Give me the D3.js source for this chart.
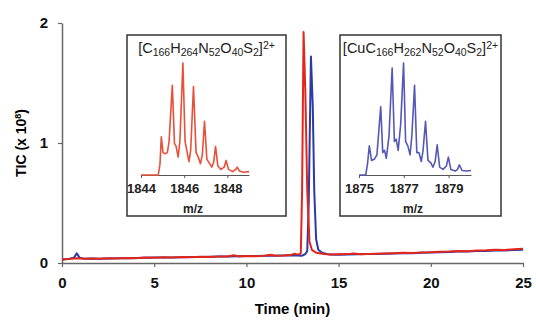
<!DOCTYPE html>
<html>
<head>
<meta charset="utf-8">
<script src="https://cdn.jsdelivr.net/npm/d3@7"></script>
<style>
  body { margin: 0; background: #fff; }
  svg { display: block; font-family: "Liberation Sans", Arial, sans-serif; }
</style>
</head>
<body>
<div id="chart"></div>
<script>
// main chromatogram: [time (min), TIC (x 10^8)]
const redTrace = [
  [0, 0.03], [0.4, 0.034], [0.8, 0.04], [1.2, 0.036], [1.6, 0.038], [2, 0.035], [2.5, 0.04], [3, 0.038],
  [3.5, 0.042], [4, 0.04], [4.5, 0.045], [5, 0.043], [5.5, 0.048], [6, 0.046], [6.5, 0.05], [7, 0.048],
  [7.5, 0.053], [8, 0.051], [8.5, 0.055], [9, 0.054], [9.3, 0.064], [9.6, 0.055], [10, 0.058], [10.5, 0.057],
  [11, 0.06], [11.3, 0.068], [11.6, 0.06], [12, 0.062], [12.4, 0.066], [12.6, 0.078], [12.8, 0.07], [12.95, 0.08],
  [13.02, 0.6], [13.1, 1.925], [13.2, 1.4], [13.3, 0.6], [13.42, 0.18], [13.55, 0.11], [13.8, 0.085], [14.2, 0.075],
  [14.6, 0.07], [15, 0.072], [15.5, 0.074], [15.8, 0.08], [16.2, 0.073], [16.6, 0.076], [17, 0.078], [17.5, 0.08],
  [18, 0.082], [18.5, 0.085], [19, 0.084], [19.5, 0.088], [20, 0.09], [20.5, 0.094], [21, 0.095], [21.5, 0.1],
  [22, 0.098], [22.5, 0.104], [23, 0.106], [23.5, 0.11], [24, 0.108], [24.5, 0.115], [25, 0.118]
];
const blueTrace = [
  [0, 0.03], [0.4, 0.035], [0.65, 0.045], [0.8, 0.08], [0.95, 0.045], [1.2, 0.036], [1.6, 0.037], [2, 0.036],
  [2.5, 0.038], [3, 0.04], [3.5, 0.04], [4, 0.042], [4.5, 0.043], [5, 0.045], [5.5, 0.046], [6, 0.045],
  [6.5, 0.048], [7, 0.05], [7.5, 0.05], [8, 0.052], [8.5, 0.054], [9, 0.055], [9.5, 0.056], [10, 0.058],
  [10.5, 0.058], [11, 0.06], [11.5, 0.06], [12, 0.062], [12.5, 0.064], [13, 0.06], [13.2, 0.075], [13.3, 0.1],
  [13.38, 0.5], [13.5, 1.72], [13.6, 1.3], [13.68, 0.6], [13.78, 0.2], [13.9, 0.11], [14.1, 0.085], [14.5, 0.07],
  [15, 0.068], [15.5, 0.07], [16, 0.072], [16.5, 0.074], [17, 0.075], [17.5, 0.077], [18, 0.08], [18.5, 0.082],
  [19, 0.082], [19.5, 0.085], [20, 0.088], [20.5, 0.09], [21, 0.092], [21.5, 0.095], [22, 0.096], [22.5, 0.1],
  [23, 0.1], [23.5, 0.104], [24, 0.105], [24.5, 0.108], [25, 0.11]
];
const timeTicks = [0, 5, 10, 15, 20, 25];
const ticTicks = [0, 1, 2];

// inset spectra: [m/z, relative intensity]
const apoSpectrum = [
  [1844, 0], [1844.8, 0], [1844.88, 0.1], [1844.94, 0.34], [1845.02, 0.2], [1845.12, 0.19], [1845.22, 0.2],
  [1845.3, 0.3], [1845.45, 0.8], [1845.55, 0.28], [1845.62, 0.26], [1845.72, 0.16], [1845.8, 0.3], [1845.94, 1.0],
  [1846.04, 0.3], [1846.12, 0.22], [1846.22, 0.12], [1846.3, 0.22], [1846.43, 0.79], [1846.55, 0.2], [1846.65, 0.16],
  [1846.75, 0.1], [1846.84, 0.18], [1846.94, 0.48], [1847.05, 0.14], [1847.15, 0.11], [1847.28, 0.07], [1847.37, 0.12],
  [1847.45, 0.255], [1847.56, 0.08], [1847.7, 0.05], [1847.85, 0.07], [1847.94, 0.13], [1848.05, 0.05], [1848.25, 0.03],
  [1848.38, 0.05], [1848.46, 0.07], [1848.56, 0.035], [1848.75, 0.025], [1849, 0.03]
];
const cuSpectrum = [
  [1875, 0], [1875.3, 0], [1875.38, 0.1], [1875.46, 0.26], [1875.56, 0.13], [1875.68, 0.14], [1875.8, 0.18],
  [1875.97, 0.61], [1876.06, 0.2], [1876.14, 0.22], [1876.22, 0.15], [1876.34, 0.35], [1876.48, 0.955], [1876.58, 0.3],
  [1876.66, 0.32], [1876.75, 0.22], [1876.86, 0.45], [1876.99, 1.0], [1877.08, 0.3], [1877.18, 0.26], [1877.28, 0.18],
  [1877.36, 0.35], [1877.48, 0.8], [1877.58, 0.2], [1877.68, 0.2], [1877.78, 0.12], [1877.86, 0.22], [1877.97, 0.48],
  [1878.08, 0.13], [1878.2, 0.11], [1878.3, 0.07], [1878.4, 0.12], [1878.49, 0.27], [1878.6, 0.07], [1878.75, 0.05],
  [1878.9, 0.08], [1878.99, 0.16], [1879.1, 0.05], [1879.3, 0.035], [1879.4, 0.05], [1879.48, 0.09], [1879.6, 0.04],
  [1879.8, 0.035], [1880, 0.04]
];
const apoTicks = [1844, 1846, 1848];
const cuTicks = [1875, 1877, 1879];

const width = 536, height = 320;
const svg = d3.select('#chart').append('svg')
  .attr('width', width).attr('height', height);

const x = d3.scaleLinear().domain([0, 25]).range([62, 523]);
const y = d3.scaleLinear().domain([0, 2]).range([263, 23]);

// --- Axes ---
const yAxis = svg.append('g')
  .attr('transform', `translate(${x(0)},0)`)
  .call(d3.axisLeft(y).tickValues(ticTicks).tickSize(4).tickSizeOuter(0).tickFormat(d3.format('d')));
const xAxis = svg.append('g')
  .attr('transform', `translate(0,${y(0)})`)
  .call(d3.axisBottom(x).tickValues(timeTicks).tickSize(4).tickSizeOuter(0));

[xAxis, yAxis].forEach(g => {
  g.select('.domain').attr('stroke', '#666').attr('stroke-width', 1.5);
  g.selectAll('.tick line').attr('stroke', '#666').attr('stroke-width', 1.2);
  g.selectAll('.tick text')
    .attr('fill', '#111')
    .style('font-family', '"Liberation Sans", Arial, sans-serif')
    .style('font-size', '15px')
    .style('font-weight', 'bold');
});
xAxis.selectAll('.tick text').attr('y', 14);
yAxis.selectAll('.tick text').attr('x', -14);

svg.append('text')
  .attr('x', (x(0) + x(25)) / 2).attr('y', 314)
  .attr('text-anchor', 'middle')
  .style('font-size', '15px').style('font-weight', 'bold')
  .text('Time (min)');

const yLabel = svg.append('text')
  .attr('transform', `translate(26,${y(1)}) rotate(-90)`)
  .attr('text-anchor', 'middle')
  .style('font-size', '14px').style('font-weight', 'bold');
yLabel.append('tspan').text('TIC (x 10');
yLabel.append('tspan').attr('dy', -5).style('font-size', '9px').text('8');
yLabel.append('tspan').attr('dy', 5).text(')');

// --- Chromatogram traces ---
const line = d3.line().x(d => x(d[0])).y(d => y(d[1]));
svg.append('path').datum(blueTrace)
  .attr('fill', 'none').attr('stroke', '#2c3aa8').attr('stroke-width', 2)
  .attr('stroke-linejoin', 'round').attr('d', line);
svg.append('path').datum(redTrace)
  .attr('fill', 'none').attr('stroke', '#e2261c').attr('stroke-width', 2)
  .attr('stroke-linejoin', 'round').attr('d', line);

// --- Insets ---
function drawInset(box, spectrum, ticks, color, parts) {
  const g = svg.append('g');
  g.append('rect')
    .attr('x', box.x).attr('y', box.y).attr('width', box.w).attr('height', box.h)
    .attr('fill', '#fff').attr('stroke', '#333').attr('stroke-width', 1.5);

  const title = g.append('text')
    .attr('x', box.x + box.w / 2).attr('y', box.y + 18)
    .attr('text-anchor', 'middle')
    .style('font-size', '14.5px').attr('fill', '#222');
  parts.forEach(p => {
    const t = title.append('tspan').text(p.t);
    if (p.s === 'sub') t.attr('baseline-shift', '-30%').style('font-size', '10.5px');
    if (p.s === 'sup') t.attr('baseline-shift', '40%').style('font-size', '10.5px');
  });

  const dom = d3.extent(spectrum, d => d[0]);
  const sx = d3.scaleLinear().domain(dom).range([box.x + box.ax0, box.x + box.ax1]);
  const sy = d3.scaleLinear().domain([0, 1]).range([box.y + 140, box.y + 28]);

  const ax = g.append('g')
    .attr('transform', `translate(0,${sy(0)})`)
    .call(d3.axisBottom(sx).tickValues(ticks).tickSize(3).tickSizeOuter(0).tickFormat(d3.format('d')));
  ax.select('.domain').attr('stroke', '#555').attr('stroke-width', 1);
  ax.selectAll('.tick line').attr('stroke', '#555');
  ax.selectAll('.tick text')
    .attr('y', 9).attr('fill', '#222')
    .style('font-family', '"Liberation Sans", Arial, sans-serif')
    .style('font-size', '13px').style('font-weight', '600');

  g.append('text')
    .attr('x', sx((dom[0] + dom[1]) / 2) - 2).attr('y', box.y + 178)
    .attr('text-anchor', 'middle')
    .style('font-size', '12px').style('font-weight', 'bold').attr('fill', '#222')
    .text('m/z');

  g.append('path').datum(spectrum)
    .attr('fill', 'none').attr('stroke', color).attr('stroke-width', 1.6)
    .attr('stroke-linejoin', 'round')
    .attr('d', d3.line().x(d => sx(d[0])).y(d => sy(d[1])));
}

drawInset({ x: 127, y: 35, w: 159, h: 181, ax0: 14, ax1: 122 }, apoSpectrum, apoTicks, '#e8503a', [
  { t: '[C' }, { t: '166', s: 'sub' }, { t: 'H' }, { t: '264', s: 'sub' }, { t: 'N' }, { t: '52', s: 'sub' },
  { t: 'O' }, { t: '40', s: 'sub' }, { t: 'S' }, { t: '2', s: 'sub' }, { t: ']' }, { t: '2+', s: 'sup' }
]);
drawInset({ x: 340, y: 35, w: 161, h: 181, ax0: 19, ax1: 131 }, cuSpectrum, cuTicks, '#5558b8', [
  { t: '[CuC' }, { t: '166', s: 'sub' }, { t: 'H' }, { t: '262', s: 'sub' }, { t: 'N' }, { t: '52', s: 'sub' },
  { t: 'O' }, { t: '40', s: 'sub' }, { t: 'S' }, { t: '2', s: 'sub' }, { t: ']' }, { t: '2+', s: 'sup' }
]);
</script>
</body>
</html>
